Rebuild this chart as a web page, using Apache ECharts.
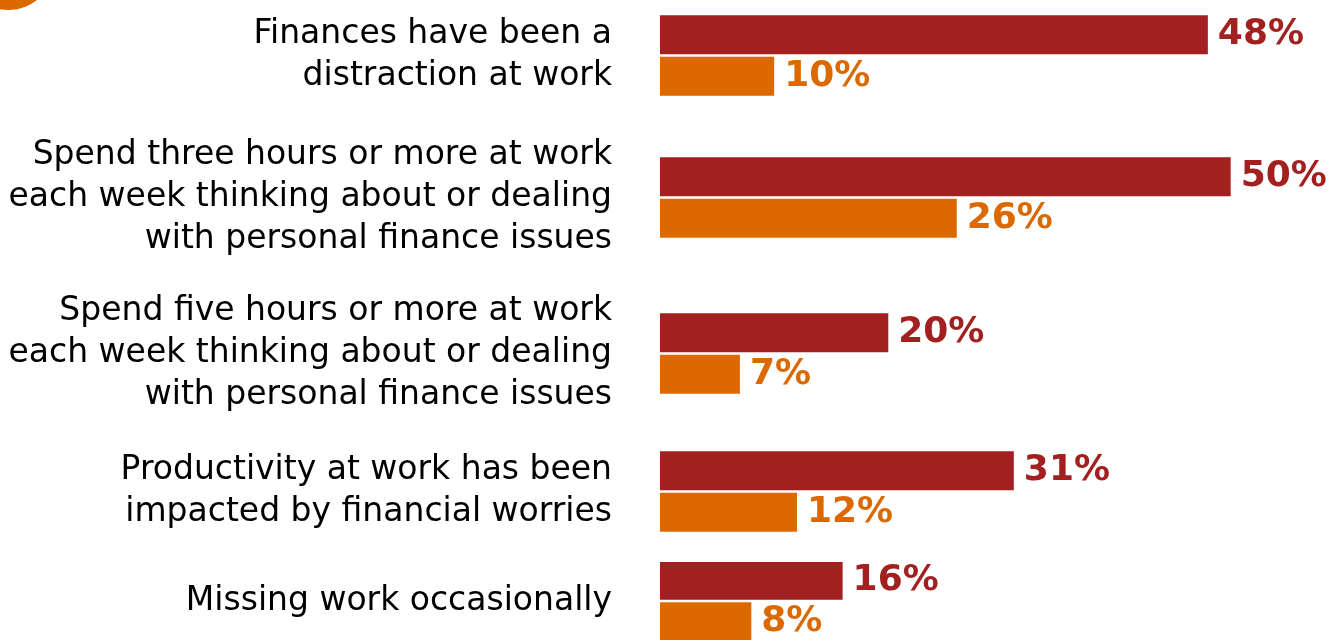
<!DOCTYPE html>
<html>
<head>
<meta charset="utf-8">
<script src="https://cdn.jsdelivr.net/npm/echarts@6/dist/echarts.min.js"></script>
<style>
html,body{margin:0;padding:0;background:#fff;}
#chart{width:1331px;height:640px;}
</style>
</head>
<body>
<div id="chart"></div>
<script>
const categories = [
  "Finances have been a\ndistraction at work",
  "Spend three hours or more at work\neach week thinking about or dealing\nwith personal finance issues",
  "Spend five hours or more at work\neach week thinking about or dealing\nwith personal finance issues",
  "Productivity at work has been\nimpacted by financial worries",
  "Missing work occasionally"
];
const seriesRed = [48, 50, 20, 31, 16];
const seriesOrange = [10, 26, 7, 12, 8];
const colors = ["#a32020", "#dc6900"];

const gridTops = [15, 157, 313, 451, 562];
const FONT = "DejaVu Sans";

const grids = [], xAxes = [], yAxes = [], series = [];
categories.forEach((cat, i) => {
  grids.push({ left: 660, top: gridTops[i], width: 662, height: 81, containLabel: false });
  xAxes.push({ gridIndex: i, type: 'value', min: 0, max: 58, show: false });
  yAxes.push({
    gridIndex: i, type: 'category', data: [cat], inverse: true,
    axisLine: { show: false }, axisTick: { show: false }, splitLine: { show: false },
    axisLabel: { margin: 48, fontFamily: FONT, fontSize: 33, lineHeight: 42, color: '#000', align: 'right' }
  });
  [seriesRed, seriesOrange].forEach((arr, k) => {
    series.push({
      type: 'bar', xAxisIndex: i, yAxisIndex: i,
      data: [arr[i]],
      barWidth: 39, barGap: '7%',
      itemStyle: { color: colors[k] },
      label: {
        show: true, position: 'right', distance: 10,
        formatter: '{c}%', fontFamily: FONT, fontWeight: 'bold', fontSize: 36, color: colors[k]
      },
      silent: true, animation: false
    });
  });
});

const chart = echarts.init(document.getElementById('chart'), null, { renderer: 'canvas' });
chart.setOption({
  animation: false,
  grid: grids, xAxis: xAxes, yAxis: yAxes, series: series,
  graphic: [{ type: 'circle', shape: { cx: 8, cy: -37, r: 47 }, style: { fill: '#dc6900' }, z: 10 }]
});
</script>
</body>
</html>
